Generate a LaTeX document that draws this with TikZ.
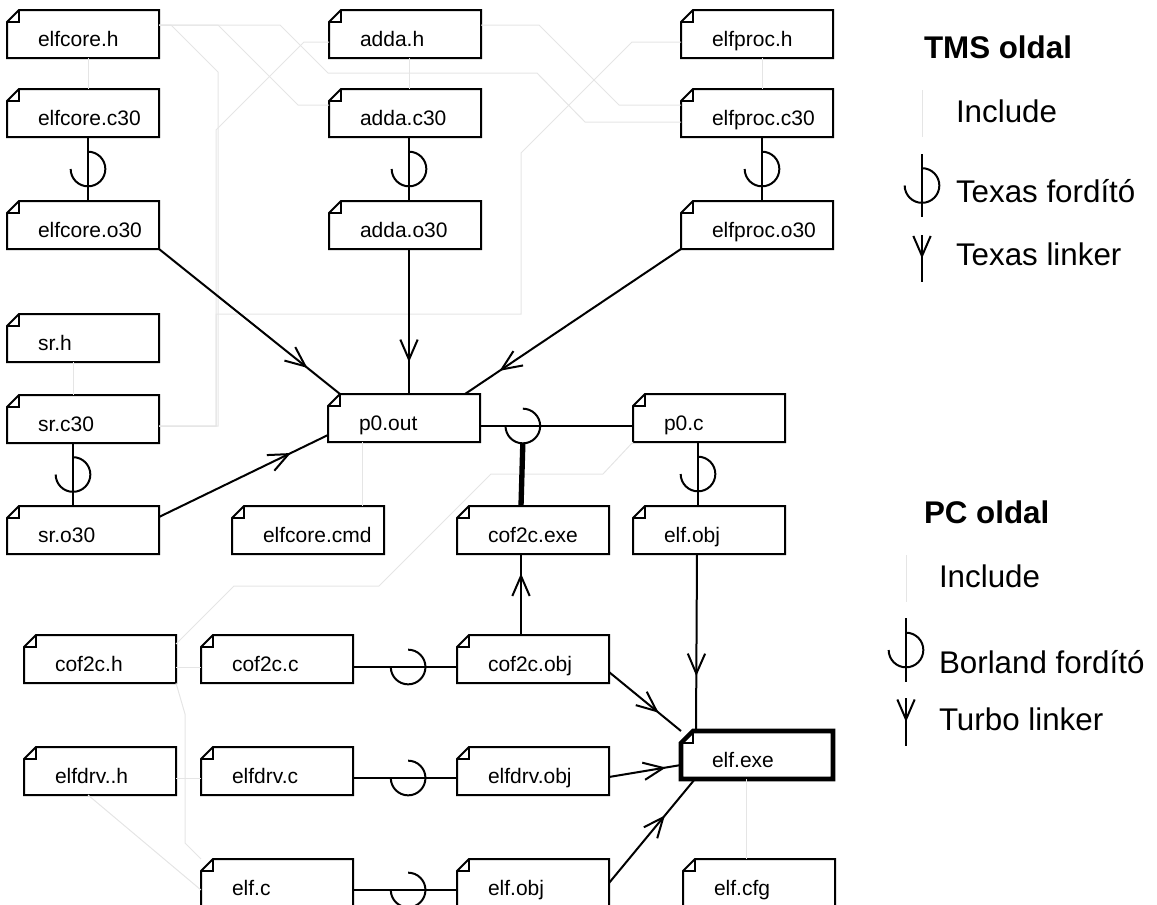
\documentclass[tikz,border=0pt]{standalone}
\usepackage{fontspec}
\setmainfont{Liberation Sans}
\usetikzlibrary{arrows.meta}
\usetikzlibrary{calc}
\usetikzlibrary{decorations.markings}

\tikzset{
  filebase/.style={minimum width=112.5pt, minimum height=34.5pt, inner sep=0pt,
    text height=22pt, text depth=3pt, font=\fontsize{15.75}{18}\selectfont,
    execute at begin node={\hbox to 67.5pt\bgroup},
    execute at end node={\hss\egroup}},
  file/.style={filebase, append after command={\pgfextra{\let\fnode=\tikzlastnode
    \draw[line width=#1, line join=miter]
      ($(\fnode.north west)+(0,12)$) -- ($(\fnode.north west)+(12,0)$)
      -- (\fnode.north east) -- (\fnode.south east) -- (\fnode.south west) -- cycle;
    \draw[line width=1pt, line join=miter]
      ($(\fnode.north west)+(0,12)$) -- ($(\fnode.north west)+(12,12)$)
      -- ($(\fnode.north west)+(12,0)$);}}},
  file/.default=1.5pt,
  include/.style={draw=black!10, line width=0.75pt},
  linker/.style={postaction={decorate},
    decoration={markings, mark=at position #1 with {\arrow{>}}}},
  convline/.style={line width=4pt},
  compiler/.pic={\draw (90:13pt) arc[start angle=90, end angle=-180, radius=13pt];},
  legendhead/.style={anchor=base west, inner sep=0pt, font=\fontsize{23.5}{28}\selectfont\bfseries},
  legendtext/.style={anchor=base west, inner sep=0pt, font=\fontsize{23.5}{28}\selectfont}
}

\begin{document}
\begin{tikzpicture}[x=0.75pt, y=-0.75pt, line width=1.5pt,
  >={Straight Barb[length=15pt, width=13pt]}]
  \useasboundingbox (0,0) rectangle (1157,904);
  \clip (0,0) rectangle (1157,904);

  \node[file] (elfcoreh) at (83,34) {elfcore.h};
  \node[file] (elfcorec) at (83,113) {elfcore.c30};
  \node[file] (elfcoreo) at (83,225) {elfcore.o30};
  \node[file] (addah) at (405,34) {adda.h};
  \node[file] (addac) at (405,113) {adda.c30};
  \node[file] (addao) at (405,225) {adda.o30};
  \node[file] (elfproch) at (757,34) {elfproc.h};
  \node[file] (elfprocc) at (757,113) {elfproc.c30};
  \node[file] (elfproco) at (757,225) {elfproc.o30};
  \node[file] (srh) at (83,338) {sr.h};
  \node[file] (src) at (83,419) {sr.c30};
  \node[file] (sro) at (83,530) {sr.o30};
  \node[file] (p0out) at (404,418) {p0.out};
  \node[file] (p0c) at (709,418) {p0.c};
  \node[file] (elfcmd) at (308,530) {elfcore.cmd};
  \node[file] (cofexe) at (533,530) {cof2c.exe};
  \node[file] (elfobj) at (709,530) {elf.obj};
  \node[file] (cofh) at (100,659) {cof2c.h};
  \node[file] (cofc) at (277,659) {cof2c.c};
  \node[file] (cofobj) at (533,659) {cof2c.obj};
  \node[file] (drvh) at (100,771) {elfdrv..h};
  \node[file] (drvc) at (277,771) {elfdrv.c};
  \node[file] (drvobj) at (533,771) {elfdrv.obj};
  \node[file=3.4pt] (elfexe) at (757,755) {elf.exe};
  \node[file] (elfc) at (277,883) {elf.c};
  \node[file] (elfobjb) at (533,883) {elf.obj};
  \node[file] (elfcfg) at (759,883) {elf.cfg};

  \draw[include] ($(elfcoreh.east)+(0,-9)$) -- ++(121,0) -- ++(48,48) -- ++(209,0)
    -- ++(48,49) -- ($(elfprocc.west)+(0,9)$);
  \draw[include] ($(elfcoreh.east)+(0,-9)$) -- ++(12,0) -- ++(47,47) |- ($(src.east)+(0,7)$);
  \draw[include] ($(elfcoreh.east)+(0,-9)$) -- ++(59,0) -- ++(80,80) -- ($(addac.west)+(0,-8)$);
  \draw[include] ($(addah.west)+(0,8)$) -- ++(-25,0) -- ++(-88,88) |- ($(src.east)+(0,7)$);
  \draw[include] ($(elfproch.west)+(0,8)$) -- ++(-49,0) -- ++(-111,111) -- ++(0,161)
    -- ++(-305,0) |- ($(src.east)+(0,7)$);
  \draw[include] ($(addah.east)+(0,-9)$) -- ++(58,0) -- ++(80,80) -- ($(elfprocc.west)+(0,-8)$);
  \draw[include] ($(elfcoreh.south)+(5,0)$) -- ($(elfcorec.north)+(5,0)$);
  \draw[include] ($(addah.south)+(4,0)$) -- ($(addac.north)+(4,0)$);
  \draw[include] ($(elfproch.south)+(5,0)$) -- ($(elfprocc.north)+(5,0)$);
  \draw[include] ($(srh.south)+(-10,0)$) -- ($(src.north)+(-10,0)$);
  \draw[include] ($(p0out.south)+(-42,0)$) -- ($(elfcmd.north)+(54,0)$);
  \draw[include] ($(cofh.east)+(0,-15)$) -- ++(58,-58) -- ++(145,0) -- ++(112,-112)
    -- ++(112,0) -- (p0c.south west);
  \draw[include] ($(cofh.east)+(0,8)$) -- ($(cofc.west)+(0,8)$);
  \draw[include] ($(drvh.east)+(0,7)$) -- ($(drvc.west)+(0,7)$);
  \draw[include] (cofh.south east) -- ++(9,31) -- ++(0,129) -- (elfc.north west);
  \draw[include] ($(drvh.south)+(-12,0)$) -- ($(elfc.west)+(0,7)$);
  \draw[include] ($(elfexe.south)+(-11,0)$) -- ($(elfcfg.north)+(-13,0)$);

  \draw ($(elfcorec.south)+(5,0)$) -- ($(elfcoreo.north)+(5,0)$) pic[pos=.5]{compiler};
  \draw ($(addac.south)+(4,0)$) -- ($(addao.north)+(4,0)$) pic[pos=.5]{compiler};
  \draw ($(elfprocc.south)+(5,0)$) -- ($(elfproco.north)+(5,0)$) pic[pos=.5]{compiler};
  \draw ($(src.south)+(-10,0)$) -- ($(sro.north)+(-10,0)$) pic[pos=.5]{compiler};
  \draw ($(p0c.south)+(-11,0)$) -- ($(elfobj.north)+(-11,0)$) pic[pos=.5]{compiler};
  \draw ($(cofc.east)+(0,8)$) -- ($(cofobj.west)+(0,8)$) pic[pos=.53]{compiler};
  \draw ($(drvc.east)+(0,7)$) -- ($(drvobj.west)+(0,7)$) pic[pos=.53]{compiler};
  \draw ($(elfc.east)+(0,7)$) -- ($(elfobjb.west)+(0,7)$) pic[pos=.53]{compiler};
  \draw ($(p0out.east)+(0,8)$) -- ($(p0c.west)+(0,8)$) coordinate[pos=.28] (cvt)
    pic[pos=.28]{compiler};
  \draw[convline] ($(cofexe.north)+(-12,0)$) -- ($(cvt)+(0,17)$);

  \draw[linker=.82] (elfcoreo.south east) -- ($(p0out.north west)+(12,0)$);
  \draw[linker=.78] ($(addao.south)+(4,0)$) -- ($(p0out.north)+(5,0)$);
  \draw[linker=.84] (elfproco.south west) -- ($(p0out.north east)+(-15,0)$);
  \draw[linker=.78] ($(sro.north east)+(0,11)$) -- ($(p0out.west)+(0,17)$);
  \draw[linker=.76] ($(cofobj.north)+(-12,0)$) -- ($(cofexe.south)+(-12,0)$);
  \draw[linker=.69] ($(elfobj.south)+(-12,0)$) -- ($(elfexe.north west)+(15,0)$);
  \draw[linker=.69] ($(cofobj.east)+(0,13)$) -- (elfexe.north west);
  \draw[linker=.79] ($(drvobj.east)+(0,6)$) -- ($(elfexe.west)+(0,10)$);
  \draw[linker=.65] (elfobjb.east) -- ($(elfexe.south west)+(14,0)$);

  \node[legendhead] (tms) at (923,58) {TMS oldal};
  \node[legendtext] (tmsinc) at (955,122) {Include};
  \node[legendtext] (tmscomp) at (955,202) {Texas fordító};
  \node[legendtext] (tmslink) at (955,265) {Texas linker};
  \draw[include] ($(tmsinc.base west)+(-33,-32)$) -- ($(tmsinc.base west)+(-33,15)$);
  \draw ($(tmscomp.base west)+(-33,-48)$) -- ($(tmscomp.base west)+(-33,15)$) pic[pos=.5]{compiler};
  \draw[linker=.5] ($(tmslink.base west)+(-33,-30)$) -- ($(tmslink.base west)+(-33,17)$);

  \node[legendhead] (pc) at (923,523) {PC oldal};
  \node[legendtext] (pcinc) at (938,587) {Include};
  \node[legendtext] (pccomp) at (938,673) {Borland fordító};
  \node[legendtext] (pclink) at (938,730) {Turbo linker};
  \draw[include] ($(pcinc.base west)+(-32,-32)$) -- ($(pcinc.base west)+(-32,15)$);
  \draw ($(pccomp.base west)+(-32,-55)$) -- ($(pccomp.base west)+(-32,9)$) pic[pos=.5]{compiler};
  \draw[linker=.5] ($(pclink.base west)+(-32,-32)$) -- ($(pclink.base west)+(-32,16)$);
\end{tikzpicture}
\end{document}
